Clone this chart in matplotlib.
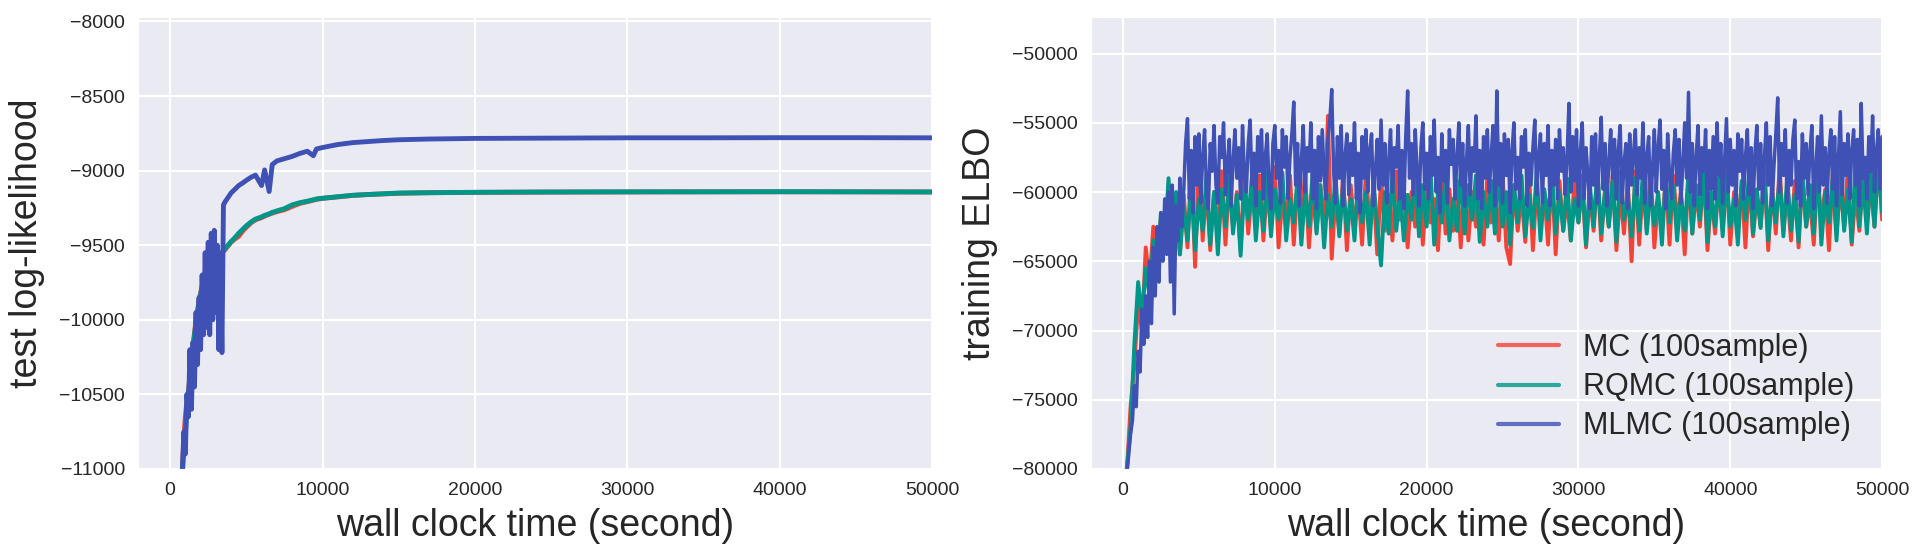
"""Test log-likelihood and training ELBO against wall clock time."""

import matplotlib

matplotlib.use("Agg")
import matplotlib.pyplot as plt
import numpy as np
import seaborn as sns

series_names = ["MC (100sample)", "RQMC (100sample)", "MLMC (100sample)"]
series_colors = ["#F44336", "#009688", "#3F51B5"]

# left panel: test log-likelihood
ll_time = [
    800, 900, 1000, 1100, 1200, 1300, 1400, 1500, 1600, 1700,
    1800, 1900, 2000, 2100, 2200, 2300, 2400, 2500, 2600, 2700,
    2800, 2900, 3000, 3100, 3200, 3300, 3400, 3500, 3600, 3800,
    4000, 4200, 4500, 4800, 5000, 5300, 5600, 6000, 6200, 6500,
    6700, 7000, 7500, 8000, 8500, 9000, 9400, 9600, 10000, 11000,
    12000, 13000, 14000, 15000, 17000, 20000, 25000, 30000, 35000, 40000,
    45000, 50000,
]
ll_mc = [
    -11000, -10800, -10650, -10550, -10480, -10380, -10280, -10180, -10090, -10000,
    -9940, -9870, -9820, -9775, -9735, -9705, -9685, -9665, -9645, -9628,
    -9612, -9598, -9588, -9578, -9568, -9558, -9548, -9538, -9530, -9505,
    -9480, -9462, -9440, -9400, -9380, -9350, -9330, -9315, -9305, -9292,
    -9285, -9275, -9262, -9240, -9220, -9208, -9198, -9192, -9186, -9176,
    -9166, -9160, -9156, -9152, -9148, -9146, -9144, -9143, -9142, -9142,
    -9142, -9143,
]
ll_rqmc = [
    -11050, -10850, -10750, -10600, -10500, -10400, -10300, -10200, -10100, -10020,
    -9950, -9880, -9830, -9780, -9740, -9710, -9690, -9670, -9650, -9630,
    -9615, -9600, -9590, -9580, -9570, -9560, -9550, -9540, -9525, -9500,
    -9475, -9455, -9420, -9390, -9370, -9345, -9325, -9310, -9300, -9290,
    -9280, -9270, -9255, -9230, -9215, -9205, -9195, -9190, -9185, -9175,
    -9165, -9160, -9155, -9150, -9148, -9145, -9143, -9142, -9142, -9141,
    -9142, -9143,
]
ll_mlmc = [
    -11050, -10750, -10900, -10500, -10650, -10200, -10600, -10150, -10450, -9950,
    -10300, -9850, -10200, -9700, -10100, -9550, -10050, -9480, -10100, -9420,
    -10000, -9400, -9950, -9500, -10200, -9560, -10220, -9230, -9210, -9180,
    -9150, -9130, -9100, -9080, -9065, -9045, -9030, -9100, -8995, -9140,
    -8960, -8935, -8920, -8905, -8885, -8870, -8900, -8855, -8845, -8825,
    -8812, -8805, -8798, -8793, -8788, -8784, -8782, -8780, -8780, -8779,
    -8779, -8780,
]

# right panel: training ELBO; MC / RQMC logged every 250 s, MLMC every 125 s
elbo_time = np.arange(250, 50001, 250)
elbo_time_mlmc = np.arange(125, 50001, 125)
elbo_mc = [
    -80300, -75500, -72500, -68000, -70000, -64000, -66500, -62500, -65500, -61800,
    -64000, -59500, -62800, -60500, -64500, -60200,
    -64000, -58000, -65400, -57800, -63500, -59500, -64200, -60000, -63000, -58500,
    -63800, -59200, -62500, -60000, -64200, -58500, -63000, -59800, -62200, -58800,
    -63500, -59500, -62800, -58200, -64000, -60500, -62500, -58800, -63800, -59200,
    -62200, -58500, -64000, -60000, -62800, -59500, -63200, -54500, -64800, -60200,
    -63000, -58800, -64200, -59500, -62500, -60000, -63800, -58600, -62200, -59800,
    -64500, -59000, -62800, -60200, -63500, -58500, -62000, -59600, -64000, -60000,
    -62500, -58800, -63800, -59500, -62200, -60500, -64200, -58500, -63000, -59800,
    -62800, -59200, -64000, -58600, -63500, -60000, -62500, -59000, -63800, -58800,
    -62200, -59800, -63500, -58500, -64000, -65200, -59500, -62800, -60200, -63600,
    -58800, -64200, -59500, -62500, -60000, -63800, -58500, -64500, -59200, -62800,
    -60500, -63500, -58800, -62200, -59500, -64000, -60000, -62800, -58600, -63500,
    -59800, -62500, -58800, -64200, -60000, -63000, -59200, -65000, -58500, -63800,
    -59500, -62800, -58200, -64000, -60500, -62500, -59000, -63800, -58800, -62200,
    -60000, -64500, -58600, -63000, -59800, -62500, -58500, -64200, -60200, -63000,
    -59000, -62800, -58400, -63800, -60000, -62200, -59500, -64000, -58800, -63200,
    -60200, -62500, -58600, -64200, -59500, -63000, -58200, -62800, -60000, -63500,
    -59200, -64000, -58800, -62500, -60500, -63800, -58500, -62200, -59800, -64200,
    -58600, -63000, -59500, -62500, -58200, -63800, -60000, -62800, -58800, -62200,
    -59500, -62500, -57500, -62000,
]
elbo_rqmc = [
    -80000, -77000, -71000, -66500, -69000, -65500, -67500, -63500, -66000, -61500,
    -64000, -59000, -63500, -60000, -64500, -61000,
    -63500, -59500, -64200, -60500, -62800, -58800, -63800, -60000, -64500, -59800,
    -62500, -59000, -63000, -60200, -64600, -59500, -62000, -58800, -63500, -60000,
    -62800, -58500, -63200, -59800, -62000, -58600, -63500, -60500, -62200, -59000,
    -63800, -60000, -62500, -58500, -63000, -59500, -64000, -60200, -62500, -58800,
    -63200, -59500, -62800, -60500, -63500, -58900, -62200, -60000, -63800, -59200,
    -62500, -65300, -60000, -63000, -58600, -62800, -59800, -63500, -60200, -62000,
    -58800, -63200, -59500, -62500, -58200, -63800, -60000, -62200, -59000, -63500,
    -60500, -62800, -58500, -63000, -59500, -62000, -58800, -63600, -60000, -62500,
    -59200, -63000, -58300, -62500, -60000, -63800, -59500, -62200, -58800, -63200,
    -60200, -62600, -58600, -63500, -59800, -62000, -58500, -63000, -60000, -62800,
    -59000, -63500, -60500, -62200, -58800, -63800, -59500, -62500, -58200, -63000,
    -60000, -62500, -59200, -63600, -58500, -62000, -60200, -63200, -59000, -62800,
    -58500, -63000, -59800, -62400, -60000, -63800, -58800, -62200, -59500, -63500,
    -60200, -62800, -58600, -63000, -59500, -62000, -58200, -63600, -60000, -62500,
    -59000, -63200, -58800, -62500, -60500, -63800, -59200, -62000, -58500, -63000,
    -59800, -62600, -58300, -63500, -60000, -62200, -59000, -63200, -58800, -62800,
    -60200, -63600, -58500, -62500, -59500, -63000, -58000, -63800, -60000, -62200,
    -59000, -63500, -58400, -62800, -59800, -63600, -57800, -62500, -59200, -63000,
    -58500, -62500, -57800, -61500,
]
elbo_mlmc = [
    -81000, -80500, -79000, -77500, -76500, -74000, -75500, -71500,
    -73000, -68500, -71000, -67500, -70500, -65000, -69500, -64000,
    -67500, -62500, -66500, -61500, -65000, -60500, -64500, -60000,
    -66500, -59500, -68800, -61000, -63500, -59000, -62500, -60000,
    -56500, -54700, -60500, -57000, -61500, -56000, -59500, -55800,
    -60800, -57500, -55500, -59800, -61200, -56500, -58500, -55200,
    -59500, -60800, -56000, -57500, -55000, -60200, -58000, -56200,
    -61000, -57800, -55500, -59000, -56800, -60500, -55200, -58800,
    -60000, -56500, -54800, -59500, -57200, -61000, -56000, -58500,
    -55500, -60500, -57500, -55800, -59800, -61200, -56500, -55200,
    -59000, -57000, -60800, -55500, -58200, -56000, -60500, -57500,
    -55800, -53500, -59500, -56500, -61000, -57800, -55200, -60000,
    -56800, -58500, -55000, -60500, -57000, -61200, -56000, -59200,
    -55500, -58800, -60500, -56200, -54800, -52600, -58500, -60800,
    -56000, -59000, -55200, -61000, -57500, -55800, -60200, -56500,
    -58800, -55000, -60500, -57200, -61500, -56000, -59000, -55500,
    -60000, -57000, -55800, -61000, -58500, -56200, -59800, -54800,
    -59500, -56500, -60800, -57800, -55500, -60000, -56800, -58200,
    -55200, -60500, -57000, -61200, -56000, -52700, -59000, -56500,
    -60200, -55500, -58500, -61000, -56800, -55000, -59800, -57200,
    -60500, -56000, -58800, -54800, -60000, -57500, -61500, -55800,
    -59200, -57000, -60800, -55500, -58000, -56200, -60500, -57500,
    -55000, -59500, -56500, -61000, -57800, -55200, -60200, -56800,
    -58500, -54500, -60500, -57000, -61200, -56000, -59000, -55500,
    -60000, -57500, -55200, -61000, -52700, -59500, -56500, -60800,
    -55800, -58800, -56200, -61500, -57000, -55000, -59800, -57500,
    -60500, -56000, -58200, -55500, -61000, -57200, -59500, -56800,
    -54800, -60200, -57500, -55800, -60800, -56500, -58800, -55200,
    -61000, -57000, -59500, -56200, -60500, -55500, -58500, -56800,
    -60200, -57500, -53600, -60000, -56000, -59200, -55500, -61000,
    -57200, -55000, -60500, -56800, -58800, -61200, -56000, -59500,
    -55800, -60800, -57500, -54600, -59800, -56500, -61000, -57800,
    -55500, -59000, -56200, -60500, -57000, -55200, -60800, -58000,
    -56500, -61200, -55800, -59500, -57200, -55500, -60200, -56800,
    -59000, -55000, -60800, -57500, -56000, -61000, -58500, -55500,
    -60000, -56800, -54800, -59800, -57000, -61200, -55800, -58800,
    -60500, -57200, -55500, -59500, -56200, -60800, -58000, -55000,
    -59000, -52800, -60000, -56500, -61000, -57500, -55200, -60200,
    -56800, -58500, -55500, -61200, -57000, -59800, -56000, -60500,
    -55000, -58800, -56500, -60800, -57800, -54700, -60000, -56200,
    -59500, -57000, -61000, -55800, -58500, -56200, -60500, -57500,
    -55500, -60200, -56800, -61200, -57200, -55200, -59800, -56500,
    -60800, -57500, -55000, -59500, -56000, -61000, -58200, -55800,
    -53200, -60000, -56500, -58800, -55500, -60800, -57000, -59500,
    -56200, -54800, -60500, -57800, -61000, -55800, -59000, -56500,
    -60200, -57000, -55200, -61200, -58500, -56000, -60000, -54500,
    -59500, -56800, -60800, -57200, -55500, -59800, -56000, -61000,
    -57500, -54200, -60200, -56500, -58800, -55800, -60500, -57000,
    -55500, -59500, -56200, -61000, -53600, -59000, -57500, -60500,
    -56000, -58500, -54500, -60000, -57200, -55500, -59800, -56000,
]

left_ylim = (-11000, -7970)
right_ylim = (-80000, -47360)
xlim = (-2100, 50000)
left_yticks = np.arange(-11000, -7999, 500)
right_yticks = np.arange(-80000, -49999, 5000)
xticks = np.arange(0, 50001, 10000)

sns.set_style("darkgrid")
plt.rcParams["font.family"] = ["Liberation Sans", "DejaVu Sans"]
plt.rcParams["text.color"] = "#262626"
plt.rcParams["grid.linewidth"] = 1.5

fig = plt.figure(figsize=(19.26, 5.57), dpi=100)
ax_ll = fig.add_axes([0.0717, 0.158, 0.4123, 0.8115])
ax_elbo = fig.add_axes([0.5665, 0.158, 0.4107, 0.8115])

for values, name, color in zip([ll_mc, ll_rqmc, ll_mlmc], series_names, series_colors):
    ax_ll.plot(ll_time, values, color=color, lw=3.5, label=name)

elbo_series = [
    (elbo_time, elbo_mc, 2.8),
    (elbo_time, elbo_rqmc, 2.8),
    (elbo_time_mlmc, elbo_mlmc, 2.5),
]
for (times, values, width), name, color in zip(elbo_series, series_names, series_colors):
    ax_elbo.plot(times, values, color=color, lw=width, label=name)

ax_ll.set_xlim(*xlim)
ax_ll.set_ylim(*left_ylim)
ax_ll.set_yticks(left_yticks)
ax_ll.set_ylabel("test log-likelihood", fontsize=27, labelpad=10)

ax_elbo.set_xlim(*xlim)
ax_elbo.set_ylim(*right_ylim)
ax_elbo.set_yticks(right_yticks)
ax_elbo.set_ylabel("training ELBO", fontsize=27, labelpad=10)

for ax in (ax_ll, ax_elbo):
    ax.set_xticks(xticks)
    ax.set_xlabel("wall clock time (second)", fontsize=27, labelpad=6)
    ax.tick_params(labelsize=14, pad=6, colors="#262626")

leg = ax_elbo.legend(loc="lower right", frameon=False, fontsize=22, labelspacing=0.3)
for line in leg.get_lines():
    line.set_linewidth(3)
    line.set_alpha(0.8)

fig.savefig("out.png", dpi=100)
plt.close(fig)
